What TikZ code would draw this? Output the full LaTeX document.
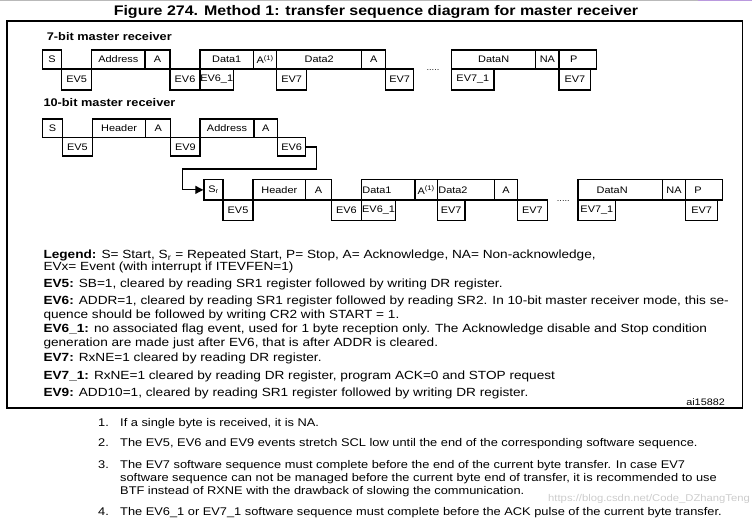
\documentclass[tikz,border=0pt]{standalone}
\usepackage{fontspec}
\setmainfont{Liberation Sans}[FakeStretch=1.15]
\usetikzlibrary{arrows.meta}
\newcommand\bx[7][]{\node[box,minimum width={(#5-#3)*1pt},minimum height={(#6-#4)*1pt},#1] (#2) at (#3,#4) {#7};}
\newcommand\fs[1]{\fontsize{#1}{#1}\selectfont}
\begin{document}
\begin{tikzpicture}[x=1pt,y=-1pt,
  box/.style={draw,line width=1.45pt,inner sep=0pt,anchor=north west,font=\fs{9.5}},
  inlbl/.style={font=\fs{9.5},inner sep=1.5pt},
  conn/.style={line width=1.1pt,-{Triangle[length=8pt,width=8pt]}},
  title/.style={font=\bfseries\fs{13.9},anchor=base},
  sect/.style={font=\bfseries\fs{11.1},anchor=base west,inner sep=0pt},
  leg/.style={font=\fs{11.85},anchor=base west,inner sep=0pt},
  note/.style={font=\fs{11.15},anchor=base west,inner sep=0pt},
  dots/.style={font=\fs{8},inner sep=0pt}]
\useasboundingbox (0,0) rectangle (752,521);
% page artefacts
\draw[gray!55,line width=1pt] (0,1) -- (698,1);
\draw[blue!35!violet!40,line width=2pt] (698,0.5) -- (752,0.5);
% title
\node[title] (ttl) at (376,15.5) {Figure 274. Method 1: transfer sequence diagram for master receiver};
% frame
\draw[line width=1.4pt] (7,21) rectangle (742.5,408);
% section labels
\node[sect] (s7) at (46.7,40.7) {7-bit master receiver};
\node[sect] (s10) at (43.3,106.7) {10-bit master receiver};
% ---- row 1 ----
\bx{r1s}{41.7}{49.3}{61}{68.3}{S}
\bx{r1addr}{91}{49.3}{144.3}{68.3}{Address}
\bx{r1a1}{144.3}{49.3}{169.3}{68.3}{A}
\bx{r1d1}{199.3}{49.3}{252.7}{68.3}{Data1}
\bx{r1a2}{252.7}{49.3}{276}{68.3}{A\textsuperscript{(1)}}
\bx{r1d2}{276}{49.3}{361}{68.3}{Data2}
\bx{r1a3}{361}{49.3}{385}{68.3}{A}
\bx{r1dn}{451}{49.3}{535}{68.3}{DataN}
\bx{r1na}{535}{49.3}{558.3}{68.3}{NA}
\bx[label={[inlbl,xshift=-4pt]center:P}]{r1p}{558.3}{49.3}{596}{68.3}{}
\bx{r1ev5}{61}{68.3}{91}{89.5}{EV5}
\bx{r1ev6}{169.3}{68.3}{199.3}{89.5}{EV6}
\bx{r1ev61}{199.3}{68.3}{232.7}{89.5}{EV6\_1}
\bx{r1ev7a}{276}{68.3}{306}{89.5}{EV7}
\bx{r1ev7b}{385}{68.3}{412.7}{89.5}{EV7}
\bx{r1ev71}{451}{68.3}{493.3}{89.5}{EV7\_1}
\bx{r1ev7c}{558.3}{68.3}{590}{89.5}{EV7}
\node[dots] (r1dots) at (433,70.5) {.....};
% ---- row 2 ----
\bx{r2s}{41.7}{118.3}{61.7}{137}{S}
\bx{r2hdr}{91.7}{118.3}{145}{137}{Header}
\bx{r2a1}{145}{118.3}{170}{137}{A}
\bx{r2addr}{199.3}{118.3}{253.3}{137}{Address}
\bx{r2a2}{253.3}{118.3}{276.7}{137}{A}
\bx{r2ev5}{61.7}{137}{91.7}{155.5}{EV5}
\bx{r2ev9}{170}{137}{199.3}{155.5}{EV9}
\bx{r2ev6}{276.7}{137}{305}{155.5}{EV6}
% ---- row 3 ----
\bx{r3sr}{203.3}{178.8}{222.3}{199.5}{S\textsubscript{r}}
\bx{r3hdr}{252.3}{178.8}{305}{199.5}{Header}
\bx{r3a1}{305}{178.8}{330.7}{199.5}{A}
\bx[label={[inlbl,anchor=west]west:Data1}]{r3d1}{360.7}{178.8}{414.3}{199.5}{}
\bx{r3a2}{414.3}{178.8}{436.7}{199.5}{A\textsuperscript{(1)}}
\bx[label={[inlbl,anchor=west]west:Data2}]{r3d2}{436.7}{178.8}{494}{199.5}{}
\bx{r3a3}{494}{178.8}{516.7}{199.5}{A}
\bx[label={[inlbl,xshift=-8pt]center:DataN}]{r3dn}{577.3}{178.8}{661.7}{199.5}{}
\bx{r3na}{661.7}{178.8}{685}{199.5}{NA}
\bx[label={[inlbl,xshift=-6pt]center:P}]{r3p}{685}{178.8}{721.7}{199.5}{}
\bx{r3ev5}{222.3}{199.5}{252.3}{220}{EV5}
\bx{r3ev6}{330.7}{199.5}{360.7}{220}{EV6}
\bx{r3ev61}{360.7}{199.5}{395}{220}{EV6\_1}
\bx{r3ev7a}{436.7}{199.5}{464.3}{220}{EV7}
\bx{r3ev7b}{516.7}{199.5}{546.7}{220}{EV7}
\bx{r3ev71}{577.3}{199.5}{615}{220}{EV7\_1}
\bx{r3ev7c}{685}{199.5}{716.7}{220}{EV7}
\node[dots] (r3dots) at (563.3,201) {.....};
% connector
\coordinate (k1) at (316.7,169);
\coordinate (k2) at (182.3,169);
\draw[conn] (r2ev6.east) -| (k1) -- (k2) |- (r3sr.west);
% legend
\node[leg] (l1) at (43.3,258.3) {\textbf{Legend:} S= Start, S\textsubscript{r} = Repeated Start, P= Stop, A= Acknowledge, NA= Non-acknowledge,};
\node[leg] (l2) at (43.3,270.5) {EVx= Event (with interrupt if ITEVFEN=1)};
\node[leg] (l3) at (43.3,287.7) {\textbf{EV5:} SB=1, cleared by reading SR1 register followed by writing DR register.};
\node[leg] (l4) at (43.3,304.7) {\textbf{EV6:} ADDR=1, cleared by reading SR1 register followed by reading SR2. In 10-bit master receiver mode, this se-};
\node[leg] (l5) at (43.3,318) {quence should be followed by writing CR2 with START = 1.};
\node[leg] (l6) at (43.3,332.5) {\textbf{EV6\_1:} no associated flag event, used for 1 byte reception only. The Acknowledge disable and Stop condition};
\node[leg] (l7) at (43.3,346) {generation are made just after EV6, that is after ADDR is cleared.};
\node[leg] (l8) at (43.3,361) {\textbf{EV7:} RxNE=1 cleared by reading DR register.};
\node[leg] (l9) at (43.3,379.5) {\textbf{EV7\_1:} RxNE=1 cleared by reading DR register, program ACK=0 and STOP request};
\node[leg] (l10) at (43.3,396.7) {\textbf{EV9:} ADD10=1, cleared by reading SR1 register followed by writing DR register.};
\node[font=\fs{9.4},anchor=base east,inner sep=0pt] (ai) at (725,405.5) {ai15882};
% notes
\node[note] (n1n) at (98,426) {1.};
\node[note] (n1) at (120,426) {If a single byte is received, it is NA.};
\node[note] (n2n) at (98,446.5) {2.};
\node[note] (n2) at (120,446.5) {The EV5, EV6 and EV9 events stretch SCL low until the end of the corresponding software sequence.};
\node[note] (n3n) at (98,468) {3.};
\node[note] (n3a) at (120,468) {The EV7 software sequence must complete before the end of the current byte transfer. In case EV7};
\node[note] (n3b) at (120,481) {software sequence can not be managed before the current byte end of transfer, it is recommended to use};
\node[note] (n3c) at (120,494) {BTF instead of RXNE with the drawback of slowing the communication.};
\node[note] (n4n) at (98,515) {4.};
\node[note] (n4) at (120,515) {The EV6\_1 or EV7\_1 software sequence must complete before the ACK pulse of the current byte transfer.};
% watermark
\node[font=\fs{9.8},text=gray!40,anchor=base west,inner sep=0pt] (wm) at (548,501) {https://blog.csdn.net/Code\_DZhangTeng};
\end{tikzpicture}
\end{document}
